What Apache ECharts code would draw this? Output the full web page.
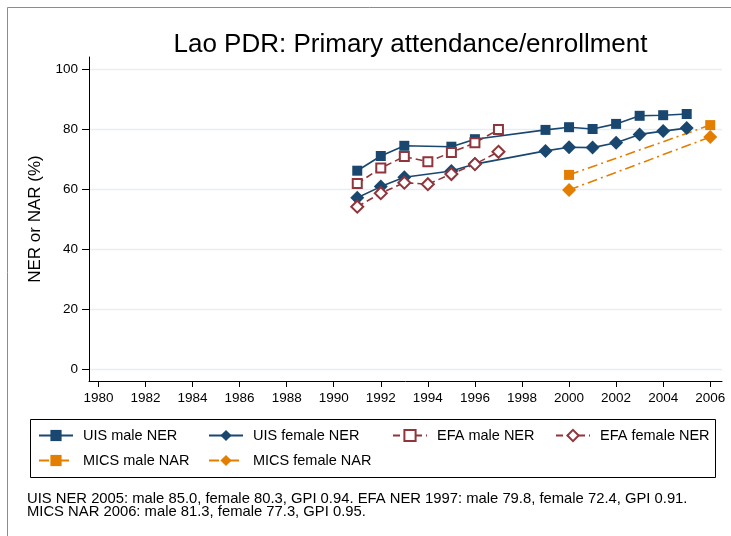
<!DOCTYPE html>
<html>
<head>
<meta charset="utf-8">
<script src="https://cdn.jsdelivr.net/npm/echarts@6/dist/echarts.min.js"></script>
<style>
  html, body { margin: 0; padding: 0; background: #fff; }
  #chart { width: 731px; height: 536px; }
</style>
</head>
<body>
<div id="chart"></div>
<script>
// years on each source
var uisYears = [1991, 1992, 1993, 1995, 1996, 1999, 2000, 2001, 2002, 2003, 2004, 2005];
var efaYears = [1991, 1992, 1993, 1994, 1995, 1996, 1997];
var micsYears = [2000, 2006];

// values (last points from the note below the chart)
var uisMale = [66.1, 71.0, 74.4, 74.1, 76.6, 79.7, 80.6, 80.0, 81.7, 84.4, 84.6, 85.0];
var uisFemale = [57.1, 60.8, 63.9, 66.0, 68.3, 72.7, 73.9, 73.8, 75.4, 78.2, 79.3, 80.3];
var efaMale = [61.8, 67.0, 70.8, 69.1, 72.2, 75.4, 79.8];
var efaFemale = [54.1, 58.6, 62.1, 61.6, 65.0, 68.3, 72.4];
var micsMale = [64.7, 81.3];
var micsFemale = [59.7, 77.3];

// tick labels
var xTicks = [1980, 1982, 1984, 1986, 1988, 1990, 1992, 1994, 1996, 1998, 2000, 2002, 2004, 2006];
var yTicks = [0, 20, 40, 60, 80, 100];

var FONT = 'Liberation Sans, Arial, Helvetica, sans-serif';
var NAVY = '#1a476f', MAROON = '#90353b', ORANGE = '#e37e00';

function pairs(xs, ys) {
    return xs.map(function (x, i) { return [x, ys[i]]; });
}

function line(name, xs, ys, color, symbol, size, dash) {
    return {
        name: name,
        type: 'line',
        data: pairs(xs, ys),
        symbol: symbol,
        symbolSize: size,
        showAllSymbol: true,
        itemStyle: { color: color, borderWidth: 1.6 },
        lineStyle: { color: color, width: 1.6, type: dash },
        emphasis: { disabled: true },
        animation: false
    };
}

var series = [
    line('UIS male NER', uisYears, uisMale, NAVY, 'rect', 10, 'solid'),
    line('UIS female NER', uisYears, uisFemale, NAVY, 'diamond', 14, 'solid'),
    line('EFA male NER', efaYears, efaMale, MAROON, 'emptyRect', 9, [7, 4]),
    line('EFA female NER', efaYears, efaFemale, MAROON, 'emptyDiamond', 12, [7, 4]),
    line('MICS male NAR', micsYears, micsMale, ORANGE, 'rect', 10, [10, 4, 2, 4]),
    line('MICS female NAR', micsYears, micsFemale, ORANGE, 'diamond', 14, [10, 4, 2, 4])
];

// one legend block per key so the columns line up like the original
var legendSpots = [[38, 428], [208, 428], [392, 428], [555, 428], [38, 453], [208, 453]];
var legends = series.map(function (s, i) {
    return {
        data: [s.name],
        left: legendSpots[i][0],
        top: legendSpots[i][1],
        padding: 0,
        itemWidth: 34,
        itemHeight: 14,
        selectedMode: false,
        textStyle: { fontFamily: FONT, fontSize: 14.5, color: '#000', padding: [0, 0, 0, 5] }
    };
});

var chart = echarts.init(document.getElementById('chart'));
chart.setOption({
    backgroundColor: '#fff',
    animation: false,
    title: {
        text: 'Lao PDR: Primary attendance/enrollment',
        left: 405.5,
        textAlign: 'center',
        top: 27,
        textStyle: { fontFamily: FONT, fontSize: 26, fontWeight: 'normal', color: '#000' }
    },
    legend: legends,
    grid: { left: 89, top: 57, right: 9, bottom: 155, containLabel: false },
    xAxis: {
        type: 'value',
        min: 1979.6,
        max: 2006.5,
        axisLine: { show: true, onZero: false, lineStyle: { color: '#000', width: 1 } },
        axisTick: { show: true, length: 6, customValues: xTicks, lineStyle: { color: '#000' } },
        axisLabel: {
            customValues: xTicks, margin: 10, fontFamily: FONT, fontSize: 13.5, color: '#000',
            formatter: function (v) { return String(v); }
        },
        splitLine: { show: false }
    },
    yAxis: {
        type: 'value',
        min: -4,
        max: 104,
        name: 'NER or NAR (%)',
        nameLocation: 'middle',
        nameGap: 45,
        nameTextStyle: { fontFamily: FONT, fontSize: 17, color: '#000' },
        axisLine: { show: true, onZero: false, lineStyle: { color: '#000', width: 1 } },
        axisTick: { show: true, length: 7, customValues: yTicks, lineStyle: { color: '#000' } },
        axisLabel: {
            customValues: yTicks, margin: 11, fontFamily: FONT, fontSize: 13.5, color: '#000',
            formatter: function (v) { return String(v); }
        },
        splitLine: { show: true, lineStyle: { color: '#e6eef1', width: 1.3 } }
    },
    graphic: [
        {
            type: 'rect', silent: true,
            shape: { x: 7.5, y: 7.5, width: 900, height: 700 },
            style: { fill: null, stroke: '#8c8c8c', lineWidth: 1 }
        },
        {
            type: 'rect', silent: true,
            shape: { x: 30.5, y: 419.5, width: 685, height: 58 },
            style: { fill: null, stroke: '#000', lineWidth: 1 }
        },
        {
            type: 'text', silent: true, left: 27, top: 491,
            style: {
                text: 'UIS NER 2005: male 85.0, female 80.3, GPI 0.94. EFA NER 1997: male 79.8, female 72.4, GPI 0.91.\nMICS NAR 2006: male 81.3, female 77.3, GPI 0.95.',
                fontFamily: FONT, fontSize: 14.8, lineHeight: 13.5, fill: '#000'
            }
        }
    ],
    series: series
});
</script>
</body>
</html>
